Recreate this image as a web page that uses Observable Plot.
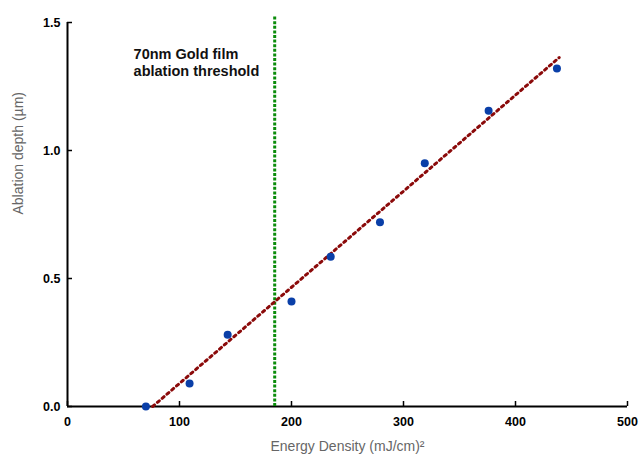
<!DOCTYPE html>
<html>
<head>
<meta charset="utf-8">
<script src="https://cdn.jsdelivr.net/npm/d3@7"></script>
<script src="https://cdn.jsdelivr.net/npm/@observablehq/plot@0.6"></script>
<style>
  html, body { margin: 0; padding: 0; background: #fff; }
</style>
</head>
<body>
<div id="chart"></div>
<script>
const energy = [70, 109, 143, 200, 235, 279, 319, 376, 437];
const depth = [0.0, 0.09, 0.28, 0.41, 0.585, 0.72, 0.95, 1.155, 1.32];
const fitX = [76, 439];
const fitY = [0, 1.363];
const thresholdX = 185;
const thresholdTop = 1.523;
const xTicks = [0, 100, 200, 300, 400, 500];
const yTicks = [0, 0.5, 1.0, 1.5];
const noteLines = "70nm Gold film\nablation threshold";

const points = energy.map((e, i) => ({x: e, y: depth[i]}));
const fit = fitX.map((e, i) => ({x: e, y: fitY[i]}));

const chart = Plot.plot({
  width: 641,
  height: 459,
  marginLeft: 67,
  marginRight: 14,
  marginTop: 22,
  marginBottom: 53,
  style: {fontFamily: "Liberation Sans, Arial, sans-serif", background: "#fff"},
  x: {domain: [0, 500]},
  y: {domain: [0, 1.5]},
  marks: [
    Plot.ruleY([0], {x1: 0, x2: 500, stroke: "#000", strokeWidth: 2}),
    Plot.ruleX([0], {y1: 0, y2: 1.5, stroke: "#000", strokeWidth: 2}),
    Plot.axisX({ticks: xTicks, tickSize: -5, text: null, label: null, stroke: "#000", strokeWidth: 1.5}),
    Plot.axisX({ticks: xTicks, tickSize: 0, tickPadding: 11, tickFormat: d => String(d), fontSize: 12.5, fontWeight: "bold", fill: "#000", label: null}),
    Plot.axisY({ticks: yTicks, tickSize: -5, text: null, label: null, stroke: "#000", strokeWidth: 1.5}),
    Plot.axisY({ticks: yTicks, tickSize: 0, tickPadding: 7, tickFormat: d => d.toFixed(1), fontSize: 12.5, fontWeight: "bold", fill: "#000", label: null}),
    Plot.ruleX([thresholdX], {y1: 0, y2: thresholdTop, stroke: "#0a8c0a", strokeWidth: 3, strokeDasharray: "3,1.6", clip: false}),
    Plot.line(fit, {x: "x", y: "y", stroke: "#8b0a0a", strokeWidth: 3, strokeDasharray: "2.5,3.8"}),
    Plot.dot(points, {x: "x", y: "y", r: 4, fill: "#0a3fa8", stroke: "none"}),
    Plot.text([noteLines], {x: 59, y: 1.346, text: d => d, textAnchor: "start", lineAnchor: "middle", lineHeight: 1.2, fontSize: 14.5, fontWeight: "bold", fill: "#111"}),
    Plot.text(["Energy Density (mJ/cm)²"], {x: 250, frameAnchor: "bottom", dy: 44, text: d => d, fontSize: 14, fill: "#666"}),
    Plot.text(["Ablation depth (µm)"], {frameAnchor: "left", dx: -49, rotate: -90, text: d => d, fontSize: 14, fill: "#666"})
  ]
});
document.getElementById("chart").appendChild(chart);
</script>
</body>
</html>
